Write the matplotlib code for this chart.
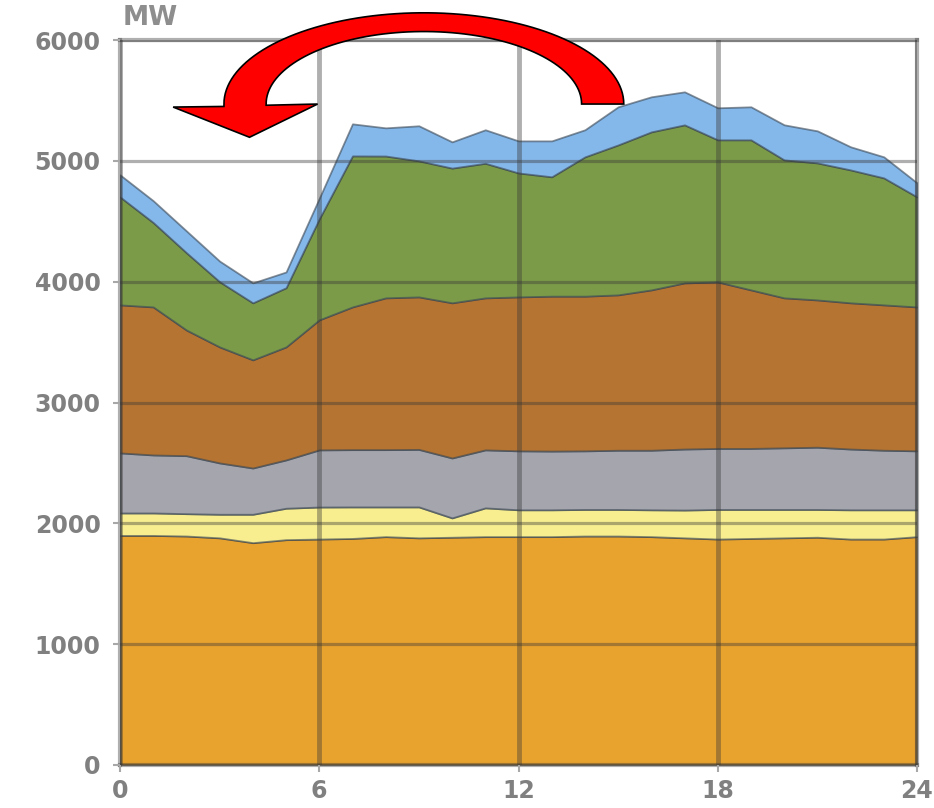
import numpy as np
import matplotlib

matplotlib.use("Agg")
import matplotlib.pyplot as plt
from matplotlib.patches import Polygon

# hour of day
hours = list(range(25))

# cumulative upper edge of each stacked layer (MW), bottom to top
orange_top = [1900, 1900, 1895, 1880, 1840, 1865, 1870, 1875, 1890, 1880, 1885, 1890, 1890,
              1890, 1895, 1895, 1890, 1880, 1870, 1875, 1880, 1885, 1870, 1870, 1890]
yellow_top = [2086, 2086, 2080, 2075, 2075, 2125, 2135, 2136, 2136, 2136, 2045, 2128, 2112,
              2112, 2115, 2115, 2112, 2110, 2115, 2115, 2115, 2115, 2112, 2112, 2112]
gray_top = [2583, 2566, 2560, 2500, 2458, 2525, 2608, 2610, 2610, 2612, 2541, 2608, 2600,
            2598, 2600, 2605, 2605, 2615, 2620, 2620, 2625, 2630, 2615, 2605, 2600]
brown_top = [3808, 3791, 3600, 3460, 3353, 3460, 3684, 3791, 3866, 3874, 3825, 3866, 3874,
             3880, 3880, 3891, 3932, 3990, 3998, 3932, 3866, 3849, 3825, 3808, 3791]
green_top = [4702, 4490, 4240, 4000, 3825, 3950, 4520, 5041, 5040, 5000, 4940, 4980, 4900,
             4868, 5033, 5132, 5240, 5298, 5174, 5174, 5008, 4983, 4925, 4859, 4702]
blue_top = [4884, 4670, 4420, 4170, 3990, 4080, 4690, 5306, 5273, 5290, 5157, 5257, 5165,
            5165, 5257, 5447, 5530, 5571, 5439, 5447, 5298, 5248, 5116, 5033, 4818]

layer_tops = [orange_top, yellow_top, gray_top, brown_top, green_top, blue_top]
layer_colors = ["#E8A22E", "#F8EE90", "#A4A5AD", "#B57431", "#7B9B48", "#85B8EA"]

x_ticks = [0, 6, 12, 18, 24]
y_ticks = [0, 1000, 2000, 3000, 4000, 5000, 6000]

fig = plt.figure(figsize=(9.34, 8.08), dpi=100)
ax = fig.add_axes([120 / 934, 1 - 765 / 808, 797 / 934, 725 / 808])

lower = [0] * len(hours)
for top, col in zip(layer_tops, layer_colors):
    ax.fill_between(hours, lower, top, facecolor=col, edgecolor=(0.22, 0.27, 0.32, 0.6),
                    linewidth=1.3, zorder=1)
    lower = top

ax.set_xlim(0, 24)
ax.set_ylim(0, 6000)
ax.set_xticks(x_ticks)
ax.set_yticks(y_ticks)
# grid sits over the fills, semi-transparent so it darkens each band
ax.xaxis.grid(True, color="#383838", alpha=0.4, linewidth=3.5, zorder=3)
ax.yaxis.grid(True, color="#383838", alpha=0.4, linewidth=2.3, zorder=3)
ax.set_axisbelow(False)

for side in ["left", "right", "top", "bottom"]:
    ax.spines[side].set_color("#383838")
    ax.spines[side].set_alpha(0.4)
    ax.spines[side].set_linewidth(3)

tick_font = dict(fontsize=17, fontweight="bold", color="#808080", family="DejaVu Sans")
ax.tick_params(axis="both", colors="#a8a8a8", length=5, width=1.5)
ax.tick_params(axis="y", pad=9)
ax.tick_params(axis="x", pad=5)
ax.set_xticklabels([str(t) for t in x_ticks], **tick_font)
ax.set_yticklabels([str(t) for t in y_ticks], **tick_font)

ax.text(0.003, 1.012, "MW", transform=ax.transAxes, ha="left", va="bottom",
        fontsize=19, fontweight="bold", color="#8e8e8e")

# curved red arrow (half-ellipse band with arrowhead), in data coordinates
cx, cy = 9.15, 5470
t = np.linspace(0, np.pi, 80)
outer = np.column_stack([cx + 6.02 * np.cos(t), cy + 755 * np.sin(t)])
inner = np.column_stack([cx + 4.75 * np.cos(t[::-1]), cy + 600 * np.sin(t[::-1])])
arrow_pts = np.vstack([outer[:-1], [[cx - 6.02, cy - 20]], [[1.6, 5445]], [[3.9, 5195]],
                       [[5.95, 5470]], [[cx - 4.75, cy - 10]], inner[1:]])
ax.add_patch(Polygon(arrow_pts, closed=True, facecolor="#FF0000", edgecolor="black",
                     linewidth=1.2, clip_on=False, zorder=5))

fig.savefig("out.png", dpi=100)
